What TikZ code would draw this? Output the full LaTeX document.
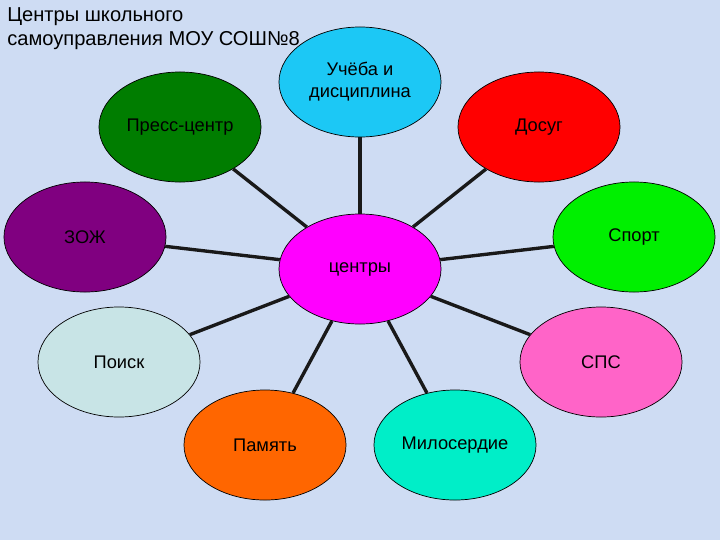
\documentclass[tikz,border=0pt]{standalone}
\usepackage{fontspec}
\setmainfont{Liberation Sans}
\usetikzlibrary{shapes.geometric}

\definecolor{bgblue}{RGB}{206,220,243}
\definecolor{studycyan}{RGB}{28,200,245}
\definecolor{pressgreen}{RGB}{0,125,0}
\definecolor{leisurered}{RGB}{255,0,0}
\definecolor{healthpurple}{RGB}{128,0,128}
\definecolor{sportlime}{RGB}{0,240,0}
\definecolor{hubmagenta}{RGB}{255,0,255}
\definecolor{searchgray}{RGB}{200,228,230}
\definecolor{spspink}{RGB}{255,100,200}
\definecolor{memoryorange}{RGB}{255,102,0}
\definecolor{mercyteal}{RGB}{0,238,200}

\tikzset{
    centrestyle/.style={ellipse, draw=black, line width=0.5pt, inner sep=0pt,
        minimum width=4.05cm, minimum height=2.75cm, align=center,
        font=\fontsize{13}{15.6}\selectfont},
    titlestyle/.style={align=left, inner sep=0pt, anchor=base west,
        font=\fontsize{14.3}{17}\selectfont},
    linkstyle/.style={line width=2.4pt, black!90}
}

\begin{document}
\begin{tikzpicture}[x=0.025cm, y=-0.025cm]

        % background
        \fill[bgblue] (0,0) rectangle (720,540);
        \useasboundingbox (0,0) rectangle (720,540);

        % ================= TITLE =================
        \node[titlestyle] (title) at (7,45) {Центры школьного\\самоуправления МОУ СОШ№8};

        % ================= HUB =================
        \node[centrestyle, fill=hubmagenta] (centry) at (360,269) {центры};

        % ================= OUTER CENTRES =================
        \node[centrestyle, fill=studycyan] (ucheba) at (360,82) {Учёба и\\дисциплина};
        \node[centrestyle, fill=pressgreen] (press) at (180,127) {Пресс-центр};
        \node[centrestyle, fill=leisurered] (dosug) at (539,127) {Досуг};
        \node[centrestyle, fill=healthpurple] (zozh) at (85,237) {ЗОЖ};
        \node[centrestyle, fill=sportlime] (sport) at (634,237) {Спорт};
        \node[centrestyle, fill=searchgray] (poisk) at (119,362) {Поиск};
        \node[centrestyle, fill=spspink] (sps) at (601,362) {СПС};
        \node[centrestyle, fill=memoryorange] (pamyat) at (265,445) {Память};
        \node[centrestyle, fill=mercyteal] (miloserdie) at (455,445) {Милосердие};

        % --- Links ---
        \foreach \outer in {ucheba, press, dosug, zozh, sport, poisk, sps, pamyat, miloserdie}
            \draw[linkstyle] (centry) -- (\outer);

\end{tikzpicture}
\end{document}
